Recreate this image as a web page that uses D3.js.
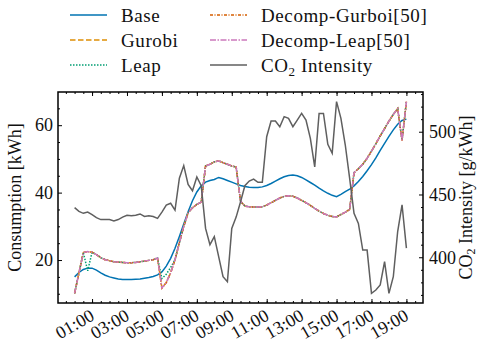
<!DOCTYPE html>
<html>
<head>
<meta charset="utf-8">
<script src="https://cdn.jsdelivr.net/npm/d3@7/dist/d3.min.js"></script>
<style>
  body { margin: 0; background: #fff; }
  svg { display: block; font-family: "Liberation Serif", "DejaVu Serif", serif; }
</style>
</head>
<body>
<div id="chart"></div>
<script>
// 15-minute steps from 00:00 to 19:00
const startTime = '00:00';
const stepMinutes = 15;

const base = [15.0, 16.3, 17.2, 17.6, 17.6, 17.0, 16.2, 15.5, 15.0, 14.7, 14.4, 14.25, 14.2, 14.2, 14.3, 14.4,
  14.6, 14.8, 15.1, 15.6, 16.5, 18.2, 20.5, 23.5, 27.0, 30.7, 34.3, 37.6, 40.2, 42.0, 43.1, 43.6,
  43.9, 44.5, 44.1, 43.6, 43.1, 42.6, 42.1, 41.8, 41.6, 41.5, 41.5, 41.7, 42.1, 42.7, 43.4, 44.1,
  44.7, 45.1, 45.2, 45.0, 44.5, 43.8, 43.0, 42.2, 41.3, 40.5, 39.8, 39.2, 38.8, 39.5, 40.3, 41.0,
  42.0, 43.3, 44.8, 46.5, 48.3, 50.3, 52.5, 54.6, 56.7, 58.6, 60.3, 61.4, 61.8];

const gurobi = [10.1, 16.2, 22.2, 22.5, 22.3, 21.6, 20.7, 20.1, 19.8, 19.5, 19.4, 19.3, 19.2, 19.2, 19.3, 19.5,
  19.7, 19.9, 20.1, 20.6, 11.7, 13.3, 16.2, 20.1, 25.1, 30.0, 34.0, 35.5, 36.5, 37.2, 47.9, 48.4,
  49.1, 49.4, 48.9, 48.4, 47.9, 47.6, 37.5, 36.0, 35.8, 35.7, 35.7, 35.8, 36.3, 37.0, 37.7, 38.4,
  38.9, 39.1, 38.9, 38.4, 37.7, 37.0, 36.2, 35.3, 34.5, 33.8, 33.3, 32.9, 32.8, 33.5, 34.2, 35.0,
  45.9, 47.1, 48.4, 50.2, 52.3, 54.5, 56.8, 59.0, 61.2, 63.2, 64.9, 55.5, 67.0];

const leap = [10.1, 16.2, 22.2, 16.8, 22.3, 21.6, 20.7, 20.1, 19.8, 19.5, 19.4, 19.3, 19.2, 19.2, 19.3, 19.5,
  19.7, 19.9, 20.1, 20.6, 14.5, 15.8, 17.8, 20.1, 25.1, 30.0, 34.0, 35.5, 36.5, 37.2, 47.9, 48.4,
  49.1, 49.4, 48.9, 48.4, 47.9, 47.6, 37.5, 36.0, 35.8, 35.7, 35.7, 35.8, 36.3, 37.0, 37.7, 38.4,
  38.9, 39.1, 38.9, 38.4, 37.7, 37.0, 36.2, 35.3, 34.5, 33.8, 33.3, 32.9, 32.8, 33.5, 34.2, 35.0,
  45.9, 47.1, 48.4, 50.2, 52.3, 54.5, 56.8, 59.0, 61.2, 63.2, 64.9, 55.5, 67.0];

// the decomposed runs land on the same schedule as gurobi
const decompGurobi = gurobi;
const decompLeap = gurobi;

const co2 = [439.5, 436.5, 435, 436, 434, 431.5, 430, 430, 430, 429, 430, 432, 433.5, 433, 433.5, 434.5,
  432.5, 433, 432.5, 431, 436, 441.5, 443, 437.5, 463, 473, 458, 453, 464, 457, 423, 410,
  416.5, 400.5, 384.5, 380.5, 423, 432, 444, 457, 460.7, 462.3, 459.7, 459.7, 496, 508.5, 508.5, 504,
  512, 510.6, 504, 509.3, 514.6, 509.3, 494.7, 472, 514.6, 514.6, 490, 482.8, 524, 510.6, 489.4, 462.8,
  435, 427, 405.7, 405.7, 371.2, 373.9, 377.9, 396.5, 371.2, 384.5, 420.5, 441.8, 407.3];

const xTickLabels = ['01:00', '03:00', '05:00', '07:00', '09:00', '11:00', '13:00', '15:00', '17:00', '19:00'];
const yTicks = [20, 40, 60];
const co2Ticks = [400, 450, 500];

const series = [
  { name: 'Base', values: base, color: '#0173b2', dash: null },
  { name: 'Gurobi', values: gurobi, color: '#de8f05', dash: '5.5,2.5' },
  { name: 'Leap', values: leap, color: '#029e73', dash: '1.5,1.5' },
  { name: 'Decomp-Gurboi[50]', values: decompGurobi, color: '#d55e00', dash: '3,1.5,1,1.5' },
  { name: 'Decomp-Leap[50]', values: decompLeap, color: '#cc78bc', dash: '6,1.5,1.5,1.5' },
];

const width = 479;
const height = 344;
const margin = { top: 92, right: 56, bottom: 41, left: 58 };
const innerW = width - margin.left - margin.right;
const innerH = height - margin.top - margin.bottom;

const parseTime = d3.timeParse('%H:%M');
const t0 = parseTime(startTime);
const times = base.map((_, i) => d3.timeMinute.offset(t0, i * stepMinutes));

// matplotlib style 5% padding
function padded(extent) {
  const pad = (extent[1] - extent[0]) * 0.05;
  return [extent[0] - pad, extent[1] + pad];
}

const tExtent = d3.extent(times);
const tPad = (tExtent[1] - tExtent[0]) * 0.05;
const x = d3.scaleTime()
  .domain([new Date(+tExtent[0] - tPad), new Date(+tExtent[1] + tPad)])
  .range([0, innerW]);

const y = d3.scaleLinear()
  .domain(padded(d3.extent(series.flatMap((s) => s.values))))
  .range([innerH, 0]);

const y2 = d3.scaleLinear()
  .domain(padded(d3.extent(co2)))
  .range([innerH, 0]);

const svg = d3.select('#chart')
  .append('svg')
  .attr('width', width)
  .attr('height', height);

const g = svg.append('g')
  .attr('transform', `translate(${margin.left},${margin.top})`);

// consumption lines
const line = d3.line()
  .x((d, i) => x(times[i]))
  .y((d) => y(d));

series.forEach((s) => {
  g.append('path')
    .datum(s.values)
    .attr('d', line)
    .attr('fill', 'none')
    .attr('stroke', s.color)
    .attr('stroke-width', 1.5)
    .attr('stroke-dasharray', s.dash);
});

// CO2 on the twin axis, drawn on top
const co2Line = d3.line()
  .x((d, i) => x(times[i]))
  .y((d) => y2(d));

g.append('path')
  .datum(co2)
  .attr('d', co2Line)
  .attr('fill', 'none')
  .attr('stroke', '#5f5f5f')
  .attr('stroke-width', 1.5);

// axes: ticks point inwards
const fontSize = 19;
const tickSize = 18;
const titleSize = 18;
const xMajor = xTickLabels.map(parseTime);
const xMinor = d3.timeMinute.every(30).range(x.domain()[0], x.domain()[1]);

g.append('g')
  .attr('transform', `translate(0,${innerH})`)
  .call(d3.axisBottom(x).tickValues(xMinor).tickSize(-2).tickFormat(''));
g.append('g')
  .call(d3.axisTop(x).tickValues(xMinor).tickSize(-2).tickFormat(''));
g.append('g')
  .call(d3.axisTop(x).tickValues(xMajor).tickSize(-4).tickFormat(''));

const xAxis = g.append('g')
  .attr('transform', `translate(0,${innerH})`)
  .call(d3.axisBottom(x).tickValues(xMajor).tickSize(-4).tickFormat(d3.timeFormat('%H:%M')));
xAxis.selectAll('text')
  .attr('y', null)
  .attr('dy', null)
  .attr('text-anchor', 'end')
  .attr('transform', 'translate(3,16) rotate(-30)');

const yMinor = d3.range(10, 70, 5).filter((v) => !yTicks.includes(v));
g.append('g')
  .call(d3.axisLeft(y).tickValues(yMinor).tickSize(-2).tickFormat(''));
g.append('g')
  .call(d3.axisLeft(y).tickValues(yTicks).tickSize(-4).tickPadding(5));

const co2Minor = d3.range(370, 540, 10).filter((v) => !co2Ticks.includes(v));
g.append('g')
  .attr('transform', `translate(${innerW},0)`)
  .call(d3.axisRight(y2).tickValues(co2Minor).tickSize(-2).tickFormat(''));
g.append('g')
  .attr('transform', `translate(${innerW},0)`)
  .call(d3.axisRight(y2).tickValues(co2Ticks).tickSize(-4).tickPadding(6));

g.selectAll('.domain').remove();
g.selectAll('.tick line').attr('stroke', '#000').attr('stroke-width', 1);
g.selectAll('.tick text')
  .attr('font-family', 'Liberation Serif')
  .attr('font-size', tickSize)
  .attr('fill', '#111');

g.append('rect')
  .attr('width', innerW)
  .attr('height', innerH)
  .attr('fill', 'none')
  .attr('stroke', '#000')
  .attr('stroke-width', 1.5);

// axis titles
svg.append('text')
  .attr('transform', `translate(21,${margin.top + innerH / 2}) rotate(-90)`)
  .attr('text-anchor', 'middle')
  .attr('font-size', titleSize)
  .attr('fill', '#111')
  .text('Consumption [kWh]');

const rightTitle = svg.append('text')
  .attr('transform', `translate(472,${margin.top + innerH / 2}) rotate(-90)`)
  .attr('text-anchor', 'middle')
  .attr('font-size', titleSize)
  .attr('fill', '#111');
rightTitle.append('tspan').text('CO');
rightTitle.append('tspan').attr('font-size', 12).attr('dy', 3).text('2');
rightTitle.append('tspan').attr('dy', -3).text(' Intensity [g/kWh]');

// legend, two columns above the plot
const legendItems = [...series, { name: 'CO2', color: '#5f5f5f', dash: null }];
const legend = svg.append('g');
legendItems.forEach((s, i) => {
  const col = Math.floor(i / 3);
  const row = i % 3;
  const item = legend.append('g')
    .attr('transform', `translate(${70 + col * 140},${15 + row * 25})`);
  item.append('line')
    .attr('x1', 0).attr('x2', 37)
    .attr('stroke', s.color)
    .attr('stroke-width', 1.5)
    .attr('stroke-dasharray', s.dash);
  const label = item.append('text')
    .attr('x', 51)
    .attr('dy', '0.35em')
    .attr('font-size', fontSize)
    .attr('letter-spacing', 0.6)
    .attr('fill', '#111');
  if (s.name === 'CO2') {
    label.append('tspan').text('CO');
    label.append('tspan').attr('font-size', 13).attr('dy', 4).text('2');
    label.append('tspan').attr('dy', -4).text(' Intensity');
  } else {
    label.text(s.name);
  }
});
</script>
</body>
</html>
